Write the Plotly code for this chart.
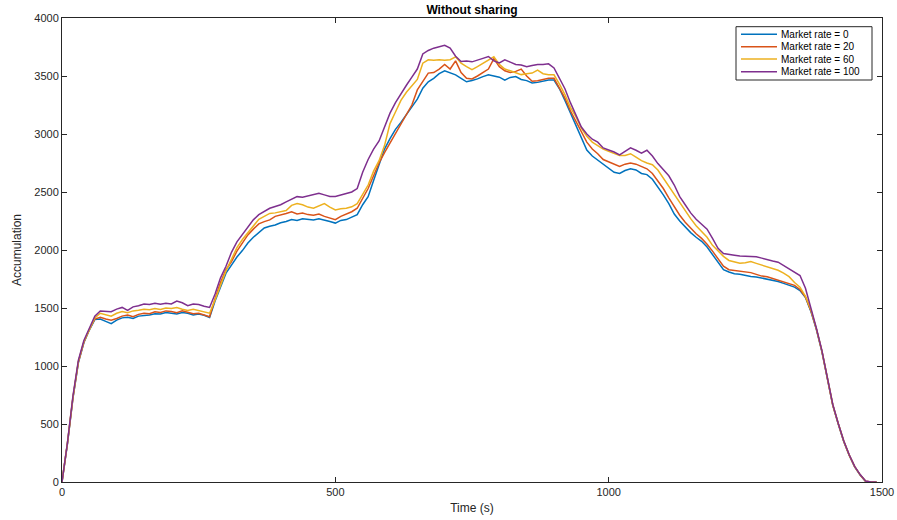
import plotly.graph_objects as go

# Time grid (s)
time_s = list(range(0, 1500, 10))

rate0 = [0, 330, 720, 1030, 1200, 1310, 1400, 1405, 1385, 1365,
         1395, 1415, 1420, 1410, 1430, 1432, 1440, 1450, 1448, 1462,
         1455, 1448, 1462, 1455, 1440, 1448, 1438, 1418, 1560, 1680,
         1800, 1870, 1940, 1995, 2060, 2110, 2150, 2190, 2205, 2215,
         2235, 2245, 2262, 2255, 2270, 2262, 2258, 2270, 2255, 2245,
         2232, 2255, 2262, 2285, 2305, 2390, 2460, 2600, 2740, 2870,
         2960, 3040, 3100, 3165, 3225, 3300, 3395, 3450, 3480, 3520,
         3545, 3525, 3510, 3480, 3450, 3462, 3475, 3495, 3510, 3500,
         3490, 3465, 3488, 3495, 3470, 3460, 3440, 3445, 3452, 3465,
         3465, 3390, 3290, 3180, 3070, 2960, 2862, 2810, 2775, 2735,
         2700, 2670, 2660, 2685, 2700, 2690, 2660, 2650, 2610, 2545,
         2475, 2400, 2310, 2250, 2200, 2150, 2110, 2075, 2025, 1960,
         1900, 1830, 1810, 1795, 1790, 1780, 1772, 1768, 1758, 1752,
         1742, 1728, 1712, 1695, 1680, 1650, 1590, 1470, 1315, 1125,
         895, 660, 500, 350, 230, 130, 60, 5, 0, 0]

rate20 = [0, 335, 725, 1035, 1205, 1315, 1405, 1420, 1405, 1395,
          1410, 1430, 1440, 1425, 1445, 1455, 1450, 1468, 1462, 1475,
          1470, 1460, 1475, 1465, 1450, 1455, 1440, 1425, 1580, 1720,
          1830, 1900, 1990, 2060, 2130, 2180, 2225, 2245, 2260, 2290,
          2300, 2315, 2330, 2310, 2318, 2305, 2300, 2310, 2290, 2275,
          2262, 2290, 2310, 2330, 2360, 2450, 2530, 2640, 2750, 2840,
          2920, 3010, 3090, 3170, 3250, 3380, 3450, 3525, 3530, 3560,
          3600, 3560, 3630, 3530, 3480, 3475, 3500, 3530, 3560, 3650,
          3580, 3545, 3530, 3540, 3560, 3500, 3455, 3460, 3470, 3480,
          3480, 3400, 3310, 3200, 3110, 3020, 2930, 2870, 2830, 2780,
          2760, 2740, 2720, 2740, 2750, 2740, 2720, 2700, 2660, 2600,
          2530, 2450, 2370, 2300, 2240, 2190, 2140, 2100, 2050, 1990,
          1930, 1860, 1830, 1825, 1815, 1810, 1805, 1790, 1775, 1770,
          1755, 1745, 1725, 1710, 1695, 1660, 1595, 1475, 1318, 1128,
          898, 662, 502, 352, 232, 132, 62, 6, 0, 0]

rate60 = [0, 338, 730, 1040, 1210, 1320, 1415, 1455, 1440, 1430,
          1455, 1470, 1460, 1475, 1480, 1490, 1485, 1495, 1488, 1500,
          1495, 1505, 1490, 1478, 1490, 1480, 1470, 1455, 1570, 1700,
          1820, 1920, 2020, 2090, 2150, 2210, 2265, 2290, 2315, 2320,
          2330, 2340, 2385, 2400, 2390, 2370, 2360, 2380, 2400, 2370,
          2345, 2355, 2360, 2372, 2400, 2480, 2560, 2680, 2770, 2900,
          3090, 3190, 3290, 3360, 3420, 3470, 3610, 3640, 3635, 3640,
          3635, 3640, 3665, 3610, 3580, 3555, 3580, 3610, 3640, 3665,
          3600, 3560, 3545, 3530, 3512, 3520, 3525, 3550, 3520, 3510,
          3510, 3430, 3340, 3230, 3150, 3050, 2980, 2930, 2900, 2870,
          2850, 2830, 2815, 2815, 2830, 2800, 2770, 2750, 2735, 2690,
          2620, 2550, 2480, 2400, 2330, 2270, 2210, 2160, 2110, 2040,
          1990, 1945, 1910, 1898, 1885, 1890, 1900, 1885, 1870, 1855,
          1840, 1825, 1800, 1770, 1720, 1680, 1600, 1485, 1320, 1130,
          900, 664, 503, 353, 233, 133, 62, 6, 0, 0]

rate100 = [0, 340, 740, 1050, 1220, 1330, 1430, 1475, 1472, 1468,
           1490, 1505, 1480, 1510, 1520, 1535, 1530, 1540, 1532, 1540,
           1535, 1560, 1545, 1520, 1535, 1530, 1515, 1505, 1620, 1760,
           1860, 1980, 2070, 2135, 2200, 2260, 2305, 2330, 2360, 2375,
           2390, 2415, 2440, 2460, 2455, 2468, 2475, 2488, 2475, 2462,
           2462, 2475, 2488, 2500, 2530, 2670, 2780, 2870, 2940, 3060,
           3180, 3270, 3350, 3420, 3490, 3560, 3690, 3720, 3740, 3755,
           3765, 3740, 3670, 3625, 3630, 3622, 3640, 3652, 3668, 3630,
           3612, 3640, 3620, 3600, 3595, 3580, 3590, 3600, 3600, 3605,
           3570, 3480, 3390, 3270, 3160, 3060, 3000, 2955, 2930, 2880,
           2862, 2845, 2820, 2850, 2880, 2860, 2835, 2860, 2810, 2745,
           2690, 2640, 2560, 2460, 2390, 2320, 2265, 2220, 2180, 2100,
           2015, 1970, 1960, 1955, 1948, 1945, 1940, 1942, 1930, 1915,
           1905, 1895, 1865, 1835, 1805, 1780, 1670, 1500, 1325, 1135,
           905, 668, 505, 355, 235, 135, 64, 8, 0, 0]

series_names = ["Market rate = 0", "Market rate = 20", "Market rate = 60", "Market rate = 100"]
series_values = [rate0, rate20, rate60, rate100]
series_colors = ["#0072BD", "#D95319", "#EDB120", "#7E2F8E"]

x_ticks = [0, 500, 1000, 1500]
y_ticks = [0, 500, 1000, 1500, 2000, 2500, 3000, 3500, 4000]

W, H = 897, 520
ML, MR, MT, MB = 62, 15, 18, 38
PW, PH = W - ML - MR, H - MT - MB


def px2x(px):
    return (px - ML) / PW


def py2y(py):
    return (H - MB - py) / PH


fig = go.Figure()
for name, vals, col in zip(series_names, series_values, series_colors):
    fig.add_trace(go.Scatter(x=time_s, y=vals, mode="lines", name=name,
                             line=dict(color=col, width=1.5), showlegend=False))

axis_common = dict(showline=True, linecolor="#262626", linewidth=1, mirror="allticks",
                   ticks="inside", ticklen=5, tickcolor="#262626", showgrid=False,
                   zeroline=False, automargin=False,
                   tickfont=dict(family="Liberation Sans, Arial", size=11, color="#262626"))

# Manual legend (MATLAB-style compact box)
shapes = [dict(type="rect", xref="paper", yref="paper",
               x0=px2x(736), x1=px2x(872), y0=py2y(80), y1=py2y(26.7),
               line=dict(color="#262626", width=1), fillcolor="white", layer="above")]
annotations = []
entry_py = [34.3, 46.7, 59.0, 71.7]
for name, col, epy in zip(series_names, series_colors, entry_py):
    shapes.append(dict(type="line", xref="paper", yref="paper",
                       x0=px2x(741), x1=px2x(777), y0=py2y(epy), y1=py2y(epy),
                       line=dict(color=col, width=1.5), layer="above"))
    annotations.append(dict(text=name, xref="paper", yref="paper",
                            x=px2x(779), y=py2y(epy), xanchor="left", yanchor="middle",
                            showarrow=False,
                            font=dict(family="Liberation Sans, Arial", size=10, color="#000000")))

fig.update_layout(
    width=W, height=H,
    margin=dict(l=ML, r=MR, t=MT, b=MB),
    paper_bgcolor="white", plot_bgcolor="white",
    font=dict(family="Liberation Sans, Arial", color="#262626"),
    title=dict(text="<b>Without sharing</b>", x=0.5, xref="paper", y=1 - 10 / H, yref="container",
               yanchor="middle", xanchor="center",
               font=dict(family="Liberation Sans, Arial", size=12, color="#000000")),
    xaxis=dict(range=[0, 1500], tickvals=x_ticks,
               title=dict(text="Time (s)", standoff=6, font=dict(size=12, color="#262626")),
               **axis_common),
    yaxis=dict(range=[0, 4000], tickvals=y_ticks,
               title=dict(text="Accumulation", standoff=10, font=dict(size=12, color="#262626")),
               **axis_common),
    shapes=shapes,
    annotations=annotations,
    showlegend=False,
)

fig.write_html("out.html", config={"displayModeBar": False},
               post_script="document.body.style.margin='0px';")
